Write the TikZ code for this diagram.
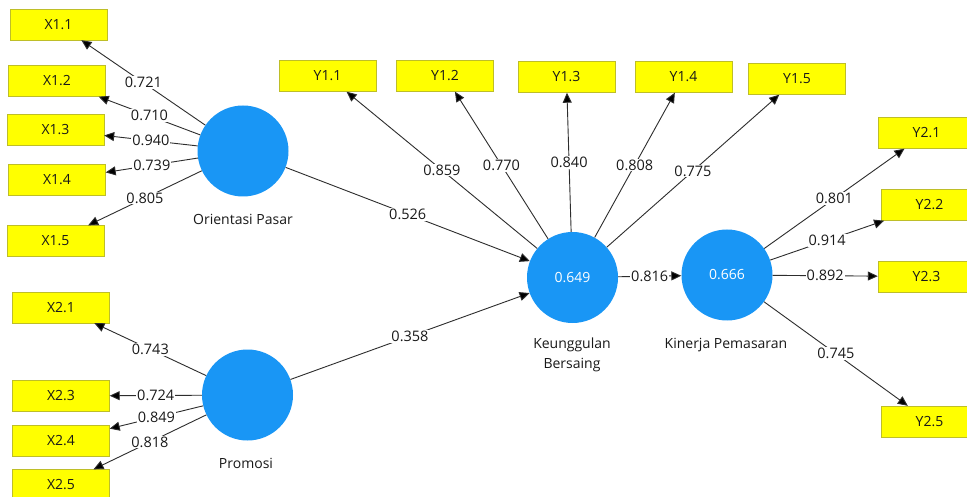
\documentclass[tikz,border=0pt]{standalone}
\usepackage{fontspec}
\setmainfont{Open Sans}
\usetikzlibrary{arrows.meta}
\definecolor{boxy}{RGB}{255,255,0}
\definecolor{boxline}{RGB}{190,190,40}
\definecolor{lv}{RGB}{25,150,245}
\definecolor{edge}{RGB}{45,45,45}
\definecolor{txt}{RGB}{25,25,25}
\begin{document}
\begin{tikzpicture}[x=1pt,y=-1pt,
  ind/.style={draw=boxline, fill=boxy, minimum width=97pt, minimum height=31pt, inner sep=0pt, text=txt, font=\fontsize{14}{16}\selectfont},
  lat/.style={circle, fill=lv, minimum size=91pt, inner sep=0pt, text=white, font=\fontsize{14}{16}\selectfont},
  lab/.style={font=\fontsize{14}{20}\selectfont, text=txt, align=center},
  ld/.style={fill=white, inner sep=1pt, text=txt, font=\fontsize{14.5}{16}\selectfont},
  arr/.style={draw=edge, line width=0.9pt, -{Triangle[length=10pt,width=9pt,fill=black]}}
]
\useasboundingbox (0,0) rectangle (967,497);
\fill[white] (0,0) rectangle (967,497);

% latent variables
\node[lat] (OP) at (243,151) {};
\node[lat] (PR) at (247.5,395) {};
\node[lat] (KB) at (572.5,277.5) {0.649};
\node[lat] (KP) at (727,275) {0.666};

\node[lab] (OPl) at (243,219) {Orientasi Pasar};
\node[lab] (PRl) at (246,463) {Promosi};
\node[lab] (KBl) at (572,355) {Keunggulan\\Bersaing};
\node[lab] (KPl) at (726,345) {Kinerja Pemasaran};

% indicators
\node[ind] (X11) at (58.5,24.5) {X1.1};
\node[ind] (X12) at (57,81) {X1.2};
\node[ind] (X13) at (55.5,130) {X1.3};
\node[ind] (X14) at (57,180) {X1.4};
\node[ind] (X15) at (55.5,241) {X1.5};

\node[ind] (X21) at (61,307.5) {X2.1};
\node[ind] (X23) at (61,396) {X2.3};
\node[ind] (X24) at (61,440.5) {X2.4};
\node[ind] (X25) at (61,485) {X2.5};

\node[ind] (Y11) at (327.5,76) {Y1.1};
\node[ind] (Y12) at (445,76) {Y1.2};
\node[ind] (Y13) at (566.5,77) {Y1.3};
\node[ind] (Y14) at (683.5,77) {Y1.4};
\node[ind] (Y15) at (797,79) {Y1.5};

\node[ind] (Y21) at (926.5,133) {Y2.1};
\node[ind] (Y22) at (929.5,205) {Y2.2};
\node[ind] (Y23) at (926.5,276.5) {Y2.3};
\node[ind] (Y25) at (929.5,421.5) {Y2.5};

% outer loadings
\draw[arr] (OP) -- node[ld]{0.721} (X11);
\draw[arr] (OP) -- node[ld]{0.710} (X12);
\draw[arr] (OP) -- node[ld]{0.940} (X13);
\draw[arr] (OP) -- node[ld]{0.739} (X14);
\draw[arr] (OP) -- node[ld]{0.805} (X15);

\draw[arr] (PR) -- node[ld]{0.743} (X21);
\draw[arr] (PR) -- node[ld]{0.724} (X23);
\draw[arr] (PR) -- node[ld]{0.849} (X24);
\draw[arr] (PR) -- node[ld]{0.818} (X25);

\draw[arr] (KB) -- node[ld]{0.859} (Y11);
\draw[arr] (KB) -- node[ld]{0.770} (Y12);
\draw[arr] (KB) -- node[ld]{0.840} (Y13);
\draw[arr] (KB) -- node[ld]{0.808} (Y14);
\draw[arr] (KB) -- node[ld]{0.775} (Y15);

\draw[arr] (KP) -- node[ld]{0.801} (Y21);
\draw[arr] (KP) -- node[ld]{0.914} (Y22);
\draw[arr] (KP) -- node[ld]{0.892} (Y23);
\draw[arr] (KP) -- node[ld]{0.745} (Y25);

% inner model
\draw[arr] (OP) -- node[ld]{0.526} (KB);
\draw[arr] (PR) -- node[ld]{0.358} (KB);
\draw[arr] (KB) -- node[ld]{0.816} (KP);
\end{tikzpicture}
\end{document}
